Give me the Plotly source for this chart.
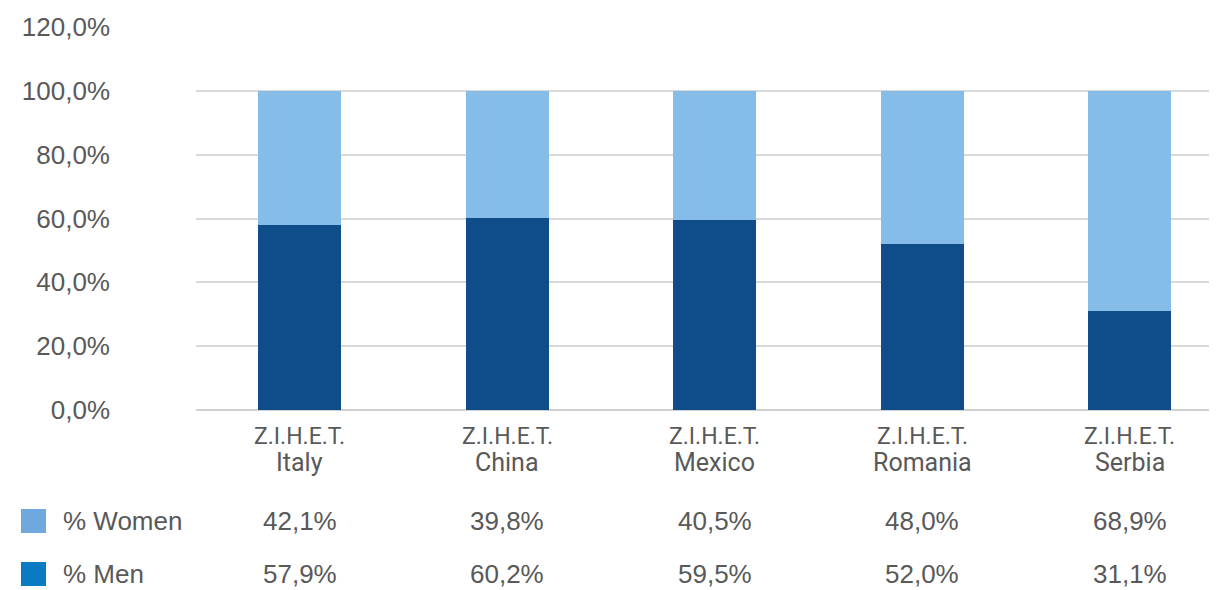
import plotly.graph_objects as go

places = ["Italy", "China", "Mexico", "Romania", "Serbia"]
prefix = "Z.I.H.E.T."
categories = [f"{prefix} {p}" for p in places]
men = [0.579, 0.602, 0.595, 0.520, 0.311]
women = [0.421, 0.398, 0.405, 0.480, 0.689]

OFF = 8  # page body margin
W, H = 1217 - OFF, 590 - OFF
L, R, T, B = 196 - OFF, 0, 27 - OFF, 180
NUMFONT = "Liberation Sans"
LBLFONT = "Roboto"
GREY = "#595959"

fig = go.Figure()
fig.add_bar(x=categories, y=men, name="% Men", marker=dict(color="#0f4c8a", line=dict(width=0)),
            width=0.4, showlegend=False)
fig.add_bar(x=categories, y=women, name="% Women", marker=dict(color="#85bce8", line=dict(width=0)),
            width=0.4, showlegend=False)

plot_h = H - T - B
plot_w = W - L - R

def py(page_y):
    return (H - B - (page_y - OFF)) / plot_h

def px(page_x):
    return ((page_x - OFF) - L) / plot_w

annotations = []
shapes = []
for c, p in zip(categories, places):
    annotations.append(dict(x=c, y=py(436), xref="x", yref="paper", text=prefix,
                            showarrow=False, xanchor="center", yanchor="middle",
                            font=dict(family=LBLFONT, size=23, color=GREY)))
    annotations.append(dict(x=c, y=py(462), xref="x", yref="paper", text=p,
                            showarrow=False, xanchor="center", yanchor="middle",
                            font=dict(family=LBLFONT, size=25, color=GREY)))

rows = [("% Women", women, 521, "#6fa8dc"), ("% Men", men, 574, "#0a7bc2")]
for name, vals, ypix, keycol in rows:
    shapes.append(dict(type="rect", xref="paper", yref="paper",
                       x0=px(21), x1=px(46), y0=py(ypix + 12), y1=py(ypix - 12),
                       fillcolor=keycol, line=dict(width=0)))
    annotations.append(dict(x=px(61), y=py(ypix), xref="paper", yref="paper", text=name,
                            showarrow=False, xanchor="left", yanchor="middle",
                            font=dict(family=NUMFONT, size=26, color=GREY)))
    for c, v in zip(categories, vals):
        annotations.append(dict(x=c, y=py(ypix), xref="x", yref="paper",
                                text=f"{v*100:.1f}%".replace(".", ","),
                                showarrow=False, xanchor="center", yanchor="middle",
                                font=dict(family=NUMFONT, size=26, color=GREY)))

fig.update_layout(
    barmode="stack",
    width=W, height=H,
    margin=dict(l=L, r=R, t=T, b=B, pad=0),
    paper_bgcolor="white", plot_bgcolor="white",
    separators=", ",
    font=dict(family=NUMFONT, size=26, color=GREY),
    xaxis=dict(range=[-0.5, 4.42], showgrid=False, showline=False, ticks="",
               showticklabels=False),
    yaxis=dict(range=[0, 1.2], dtick=0.2, tickformat=".1%", showgrid=True,
               gridcolor="#d9d9d9", gridwidth=2, zeroline=True, zerolinecolor="#d0d0d0",
               zerolinewidth=2, showline=False, ticks="", ticklabelstandoff=85,
               tickfont=dict(family=NUMFONT, size=26, color=GREY)),
    annotations=annotations,
    shapes=shapes,
)

fig.write_html("out.html")
